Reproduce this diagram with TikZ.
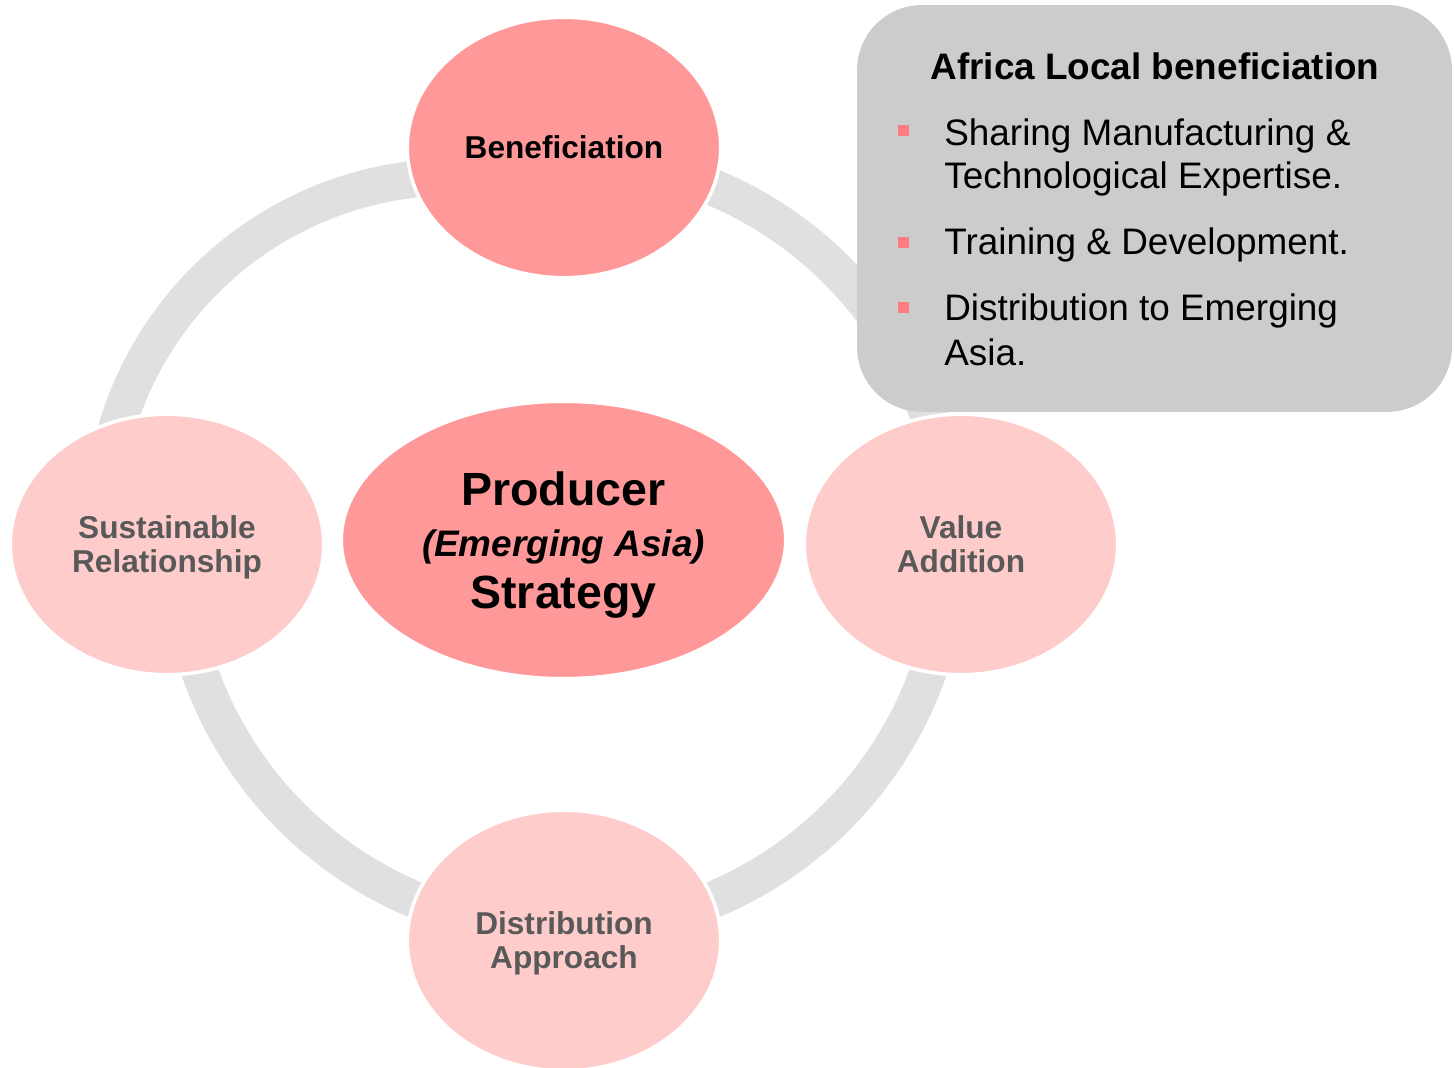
\documentclass[tikz,border=0pt]{standalone}
\usepackage{xcolor}
\usepackage{fontspec}
\setmainfont{Liberation Sans}
\usepackage{tikz}
\usetikzlibrary{shapes.geometric, positioning}

\definecolor{petaldark}{HTML}{FF9999}
\definecolor{petallight}{HTML}{FFCCCC}
\definecolor{ringgray}{HTML}{E0E0E0}
\definecolor{boxgray}{HTML}{CCCCCC}
\definecolor{bulletred}{HTML}{FF7C80}
\definecolor{labelgray}{HTML}{595959}

\begin{document}
\begin{tikzpicture}[x=0.02cm, y=0.02cm,
        stage/.style={
                ellipse,
                minimum width=6.27cm,
                minimum height=5.21cm,
                inner sep=0pt,
                text depth=0pt,
                fill=petallight,
                draw=white,
                line width=2pt,
                align=center,
                text=labelgray,
                font=\bfseries\fontsize{18}{19.3}\selectfont,
        },
        hub/.style={
                stage,
                minimum width=8.89cm,
                minimum height=5.55cm,
                fill=petaldark,
                text=black,
                font=\bfseries\fontsize{26.5}{29.5}\selectfont,
        },
        ringarc/.style={
                draw=ringgray,
                line width=21pt,
        },
        infobox/.style={
                fill=boxgray,
                rounded corners=1.3cm,
                minimum width=11.9cm,
                minimum height=8.14cm,
                inner sep=0pt,
        },
        bulletmark/.style={
                fill=bulletred,
                minimum size=0.22cm,
                inner sep=0pt,
        },
        itemline/.style={
                anchor=base west,
                inner sep=0pt,
                font=\fontsize{21}{25}\selectfont,
        }]
            \useasboundingbox (0,0) rectangle (1455,1068);
            \coordinate (ringc) at (564,524.5);
            \coordinate (bendc) at (454,539);
            \foreach \a in {90,0,-90}
                \draw[ringarc] ([shift={(\a:386)}]ringc) arc[start angle=\a, delta angle=-90, radius=386];
            \draw[ringarc] ([shift={(92:352)}]bendc) arc[start angle=92, end angle=168, radius=352];

            \node[stage, fill=petaldark, text=black] (bene) at (564,920.5) {Beneficiation};
            \node[stage] (value) at (961,523.5) {Value\\Addition};
            \node[stage] (distr) at (564,127.5) {Distribution\\Approach};
            \node[stage] (sust) at (167,523.5) {Sustainable\\Relationship};
            \node[hub] (core) at (563.5,528) {Producer\\{\fontsize{21}{29.5}\selectfont\itshape (Emerging Asia)}\\Strategy};

            \node[infobox] (panel) at (1154.5,859.5) {};
            \node[anchor=base, inner sep=0pt, font=\bfseries\fontsize{21}{25}\selectfont] (paneltitle) at (1155,988.5) {Africa Local beneficiation};
            \foreach \n/\y/\t in {1/922.5/Sharing Manufacturing \&, 2/879/Technological Expertise., 3/813/Training \& Development., 4/747/Distribution to Emerging, 5/702.5/Asia.}
                \node[itemline] (line\n) at (944,\y) {\t};
            \foreach \n/\y in {1/937, 2/825.5, 3/760}
                \node[bulletmark] (dot\n) at (903.5,\y) {};
\end{tikzpicture}
\end{document}
